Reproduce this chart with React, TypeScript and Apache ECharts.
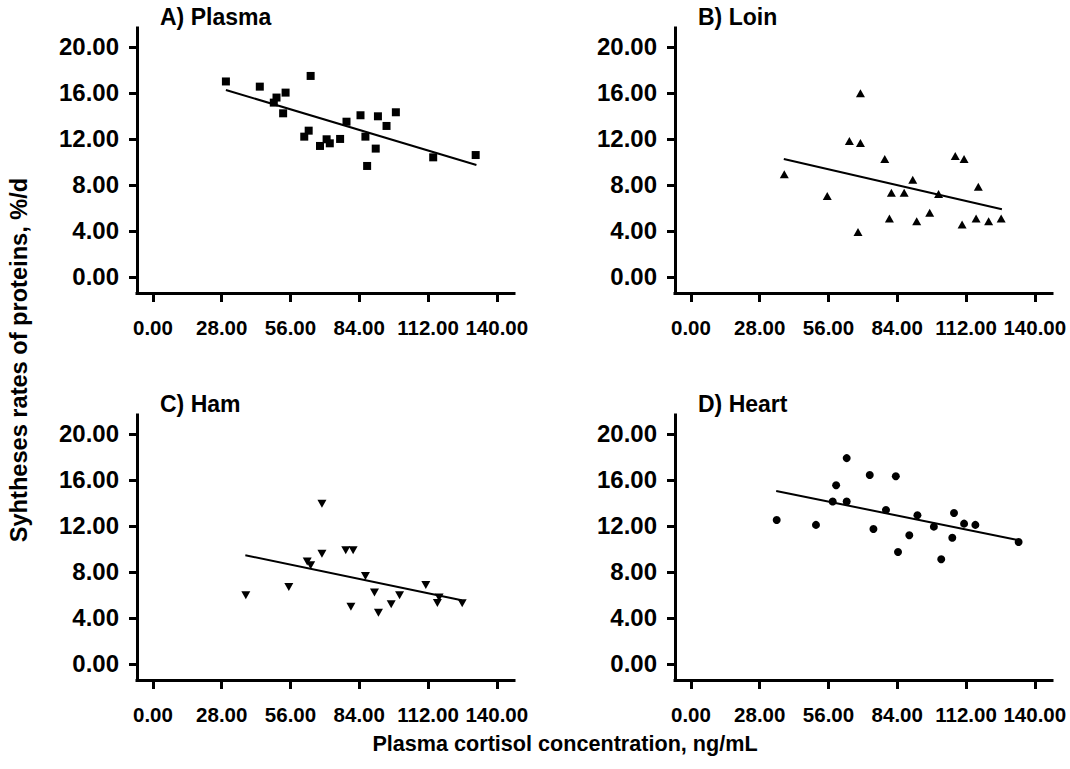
import React, { useEffect, useRef } from "react";
import * as echarts from "echarts";

const FONT = '"Liberation Sans", Arial, Helvetica, sans-serif';

// Axis ticks
const xTicks = [0, 28, 56, 84, 112, 140];
const yTicks = [0, 4, 8, 12, 16, 20];

// Panel titles
const panelTitles = ["A) Plasma", "B) Loin", "C) Ham", "D) Heart"];

// A) Plasma  [cortisol, synthesis rate]
const plasmaPoints = [
  [29.7, 17.0], [43.5, 16.55], [64.2, 17.48], [54.0, 16.03], [50.3, 15.6],
  [49.2, 15.16], [53.0, 14.23], [78.8, 13.5], [84.5, 14.06], [91.6, 13.97],
  [98.9, 14.32], [95.1, 13.13], [63.4, 12.72], [61.6, 12.2], [70.7, 11.97],
  [68.0, 11.39], [72.0, 11.62], [76.2, 12.0], [86.5, 12.2], [90.7, 11.16],
  [87.2, 9.65], [114.1, 10.4], [131.4, 10.6],
];
const plasmaFit = [[29.7, 16.26], [131.7, 9.74]];

// B) Loin
const loinPoints = [
  [38.0, 8.93], [55.5, 7.04], [69.0, 15.97], [64.5, 11.83], [69.0, 11.65],
  [68.0, 3.91], [78.9, 10.26], [81.6, 7.33], [86.8, 7.33], [90.3, 8.46],
  [80.8, 5.07], [91.9, 4.84], [97.2, 5.57], [100.8, 7.22], [107.6, 10.52],
  [111.2, 10.26], [117.0, 7.85], [110.4, 4.55], [116.1, 5.07], [121.2, 4.84],
  [126.3, 5.07],
];
const loinFit = [[37.8, 10.26], [126.6, 5.88]];

// C) Ham
const hamPoints = [
  [37.8, 5.97], [55.3, 6.7], [68.8, 13.94], [68.8, 9.59], [62.8, 8.9],
  [64.2, 8.58], [78.5, 9.89], [81.5, 9.89], [86.5, 7.65], [80.6, 4.98],
  [90.2, 6.2], [91.8, 4.46], [97.0, 5.19], [100.4, 5.97], [111.1, 6.87],
  [116.5, 5.77], [115.8, 5.3], [125.9, 5.28],
];
const hamFit = [[37.6, 9.45], [125.7, 5.54]];

// D) Heart
const heartPoints = [
  [34.9, 12.52], [50.9, 12.09], [59.1, 15.54], [57.7, 14.12], [63.4, 14.12],
  [63.4, 17.9], [72.8, 16.43], [83.4, 16.32], [74.3, 11.74], [79.4, 13.39],
  [84.3, 9.74], [88.9, 11.19], [92.2, 12.93], [98.9, 11.94], [101.9, 9.1],
  [107.1, 13.13], [106.4, 10.98], [111.2, 12.2], [115.8, 12.09], [133.4, 10.61],
];
const heartFit = [[34.7, 15.04], [133.0, 10.78]];

const xTitle = "Plasma cortisol concentration, ng/mL";
const yTitle = "Syhtheses rates of proteins, %/d";

const panelData = [
  { pts: plasmaPoints, fit: plasmaFit },
  { pts: loinPoints, fit: loinFit },
  { pts: hamPoints, fit: hamFit },
  { pts: heartPoints, fit: heartFit },
];

// layout / style (kept separate from data)
const layout = [
  { left: 137, top: 28, symbol: "rect", size: 8, rotate: 0 },
  { left: 675, top: 28, symbol: "triangle", size: [9, 8], rotate: 0 },
  { left: 137, top: 415, symbol: "triangle", size: [9, 8], rotate: 180 },
  { left: 675, top: 415, symbol: "circle", size: 8, rotate: 0 },
];
const GRID_W = 377;
const GRID_H = 265;

export default function App() {
  const ref = useRef<HTMLDivElement>(null);

  useEffect(() => {
    if (!ref.current) return;
    const chart = echarts.init(ref.current, null, { renderer: "svg" });

    const grid = layout.map((l) => ({
      left: l.left,
      top: l.top,
      width: GRID_W,
      height: GRID_H,
      containLabel: false,
    }));

    const xAxis = layout.map((_, i) => ({
      type: "value",
      gridIndex: i,
      min: -6.5,
      max: 147,
      splitLine: { show: false },
      axisLine: { show: true, onZero: false, lineStyle: { color: "#000", width: 3, cap: "square" } },
      axisTick: { show: true, length: 9, customValues: xTicks, lineStyle: { color: "#000", width: 3 } },
      axisLabel: {
        show: true,
        customValues: xTicks,
        margin: 24,
        color: "#000",
        fontFamily: FONT,
        fontWeight: "bold",
        fontSize: 20.5,
        formatter: (v: number) => v.toFixed(2),
      },
    }));

    const yAxis = layout.map((_, i) => ({
      type: "value",
      gridIndex: i,
      min: -1.4,
      max: 21.65,
      splitLine: { show: false },
      axisLine: { show: true, onZero: false, lineStyle: { color: "#000", width: 3, cap: "square" } },
      axisTick: { show: true, length: 8, customValues: yTicks, lineStyle: { color: "#000", width: 3 } },
      axisLabel: {
        show: true,
        customValues: yTicks,
        margin: 18,
        color: "#000",
        fontFamily: FONT,
        fontWeight: "bold",
        fontSize: 24,
        formatter: (v: number) => v.toFixed(2),
      },
    }));

    const series: any[] = [];
    panelData.forEach((p, i) => {
      series.push({
        type: "scatter",
        xAxisIndex: i,
        yAxisIndex: i,
        data: p.pts,
        symbol: layout[i].symbol,
        symbolSize: layout[i].size,
        symbolRotate: layout[i].rotate,
        itemStyle: { color: "#000", opacity: 1 },
        z: 3,
      });
      series.push({
        type: "line",
        xAxisIndex: i,
        yAxisIndex: i,
        data: p.fit,
        symbol: "none",
        lineStyle: { color: "#000", width: 2 },
        z: 2,
      });
    });

    const graphic: any[] = layout.map((l, i) => ({
      type: "text",
      left: l.left + 23,
      top: l.top - 23,
      style: {
        text: panelTitles[i],
        fill: "#000",
        font: `bold 23px ${FONT}`,
      },
    }));
    graphic.push({
      type: "text",
      x: 565,
      y: 743,
      style: {
        text: xTitle,
        fill: "#000",
        font: `bold 21.6px ${FONT}`,
        textAlign: "center",
        textVerticalAlign: "middle",
      },
    });
    graphic.push({
      type: "text",
      x: 19,
      y: 360,
      rotation: Math.PI / 2,
      style: {
        text: yTitle,
        fill: "#000",
        font: `bold 23.6px ${FONT}`,
        textAlign: "center",
        textVerticalAlign: "middle",
      },
    });

    chart.setOption({
      animation: false,
      backgroundColor: "#fff",
      grid,
      xAxis,
      yAxis,
      series,
      graphic,
    });

    return () => chart.dispose();
  }, []);

  return (
    <div
      ref={ref}
      style={{ position: "fixed", left: 0, top: 0, width: 1070, height: 769, background: "#fff" }}
    />
  );
}
